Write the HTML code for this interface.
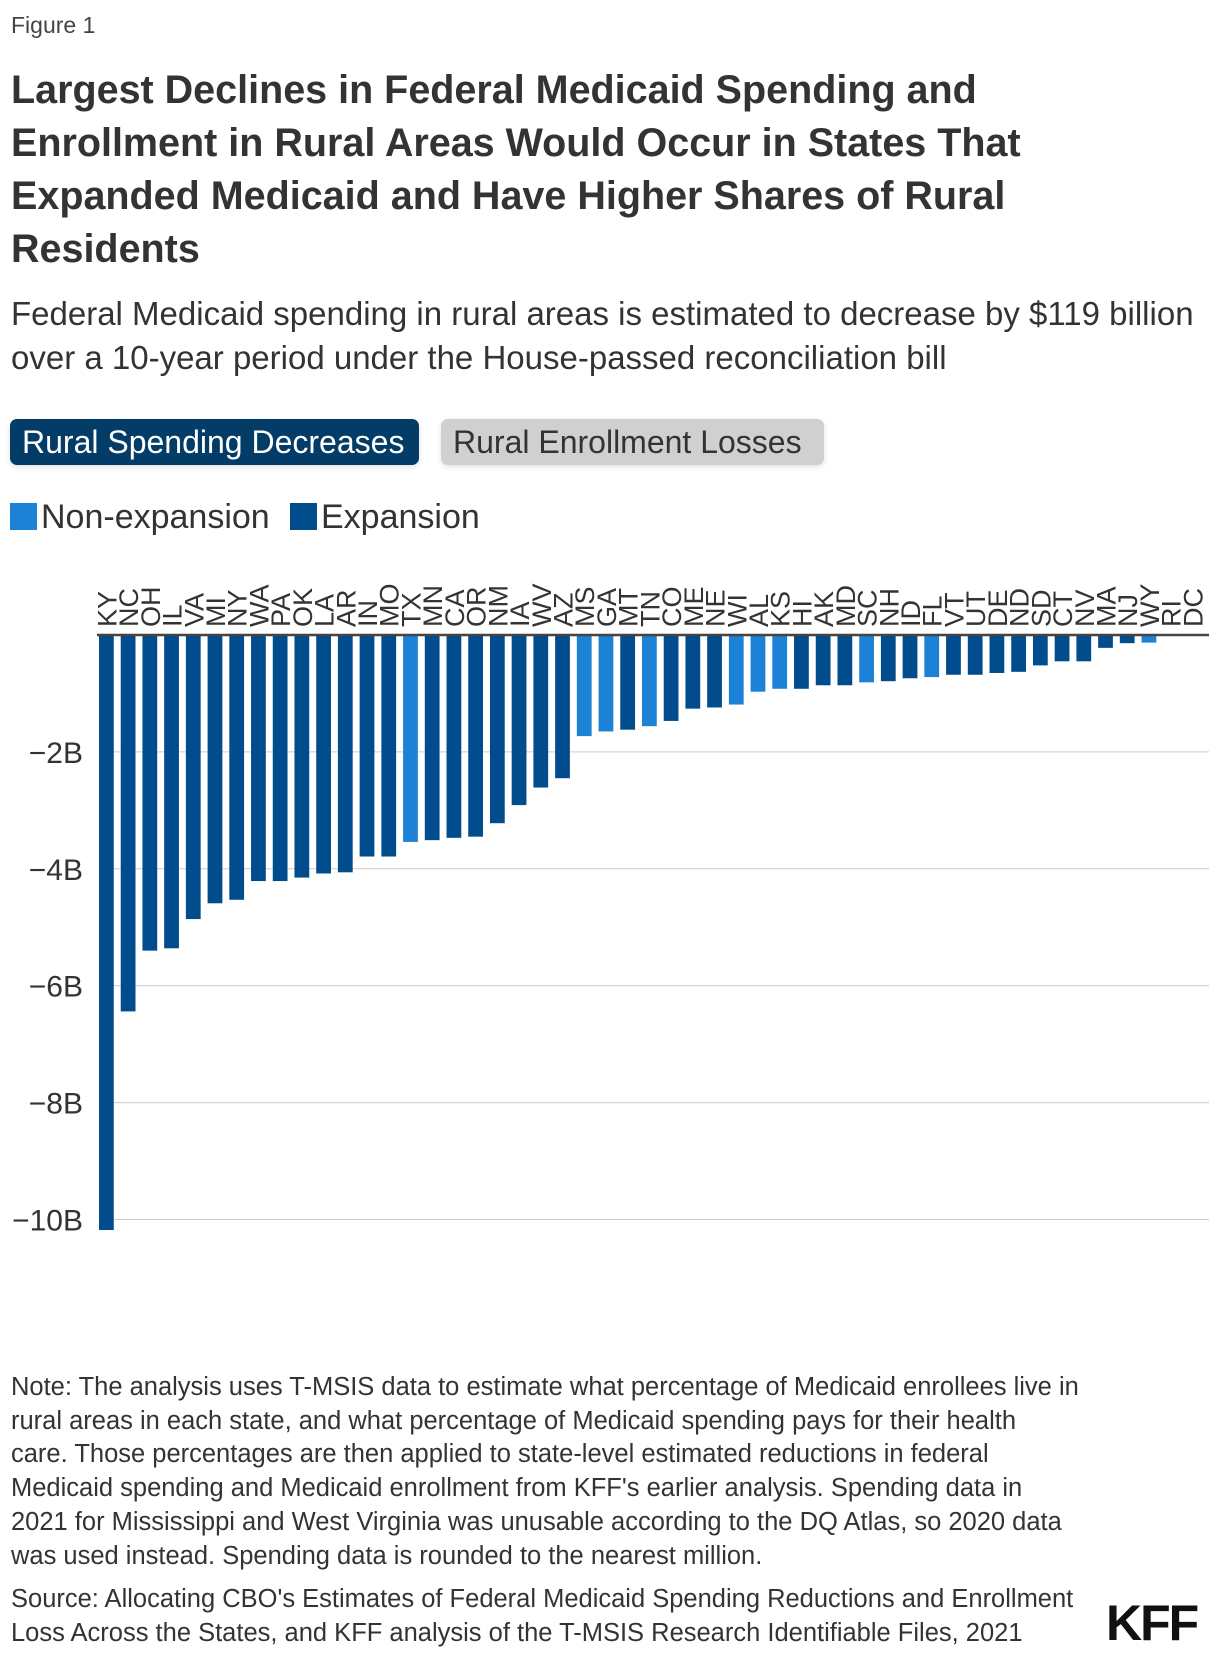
<!DOCTYPE html>
<html><head><meta charset="utf-8">
<style>
body{margin:0;background:#fff;}
#page{position:relative;width:1220px;height:1660px;overflow:hidden;font-family:"Liberation Sans",sans-serif;color:#333;}
.abs{position:absolute;margin:0;}
#fig{left:11px;top:12px;font-size:23px;color:#444;}
#title{left:11px;top:64px;font-size:39.5px;font-weight:bold;line-height:53px;color:#333;}
#sub{left:11px;top:292px;font-size:33px;line-height:44px;color:#333;}
.btn{top:419px;height:46px;border-radius:7px;font-size:32px;line-height:46px;padding:0 12px;box-sizing:border-box;box-shadow:0 2px 6px rgba(0,0,0,.12);white-space:nowrap;}
#b1{left:10px;width:409px;background:#033c66;color:#fff;}
#b2{left:441px;width:383px;background:#d0d0d0;color:#333;}
.leg{top:498px;font-size:34px;line-height:38px;white-space:nowrap;}
.sw{display:inline-block;width:27px;height:27px;vertical-align:-2px;margin-right:4px;}
#note{left:11px;top:1371px;font-size:25.5px;line-height:33.7px;color:#333;width:1200px;}
#src{left:11px;top:1583px;font-size:25.5px;line-height:33.7px;color:#333;width:1200px;}
#kff{left:1106px;top:1594px;font-size:50px;font-weight:bold;color:#111;letter-spacing:-2px;}
</style></head><body>
<div id="page">
<p class="abs" id="fig">Figure 1</p>
<p class="abs" id="title">Largest Declines in Federal Medicaid Spending and<br>Enrollment in Rural Areas Would Occur in States That<br>Expanded Medicaid and Have Higher Shares of Rural<br>Residents</p>
<p class="abs" id="sub">Federal Medicaid spending in rural areas is estimated to decrease by $119 billion<br>over a 10-year period under the House-passed reconciliation bill</p>
<div class="abs btn" id="b1">Rural Spending Decreases</div>
<div class="abs btn" id="b2">Rural Enrollment Losses</div>
<div class="abs leg" style="left:10px"><span class="sw" style="background:#1c82d6"></span>Non-expansion</div>
<div class="abs leg" style="left:290px"><span class="sw" style="background:#004c8c"></span>Expansion</div>
<svg class="abs" style="left:0;top:0" width="1220" height="1300" id="chart"></svg>
<p class="abs" id="note">Note: The analysis uses T-MSIS data to estimate what percentage of Medicaid enrollees live in<br>rural areas in each state, and what percentage of Medicaid spending pays for their health<br>care. Those percentages are then applied to state-level estimated reductions in federal<br>Medicaid spending and Medicaid enrollment from KFF's earlier analysis. Spending data in<br>2021 for Mississippi and West Virginia was unusable according to the DQ Atlas, so 2020 data<br>was used instead. Spending data is rounded to the nearest million.</p>
<p class="abs" id="src">Source: Allocating CBO's Estimates of Federal Medicaid Spending Reductions and Enrollment<br>Loss Across the States, and KFF analysis of the T-MSIS Research Identifiable Files, 2021</p>
<div class="abs" id="kff">KFF</div>
</div>
<script>
const states=["KY","NC","OH","IL","VA","MI","NY","WA","PA","OK","LA","AR","IN","MO","TX","MN","CA","OR","NM","IA","WV","AZ","MS","GA","MT","TN","CO","ME","NE","WI","AL","KS","HI","AK","MD","SC","NH","ID","FL","VT","UT","DE","ND","SD","CT","NV","MA","NJ","WY","RI","DC"];
const values=[-10.18,-6.44,-5.40,-5.36,-4.86,-4.59,-4.53,-4.21,-4.21,-4.15,-4.08,-4.06,-3.79,-3.79,-3.54,-3.51,-3.47,-3.45,-3.22,-2.91,-2.61,-2.45,-1.73,-1.65,-1.62,-1.56,-1.47,-1.26,-1.24,-1.19,-0.97,-0.92,-0.92,-0.86,-0.86,-0.81,-0.79,-0.74,-0.72,-0.68,-0.68,-0.65,-0.63,-0.52,-0.45,-0.45,-0.22,-0.14,-0.13,0,0];
const nonExpansion=["TX","MS","GA","TN","WI","AL","KS","SC","FL","WY"];
const yTicks=[-2,-4,-6,-8,-10];
const yTickLabels=["−2B","−4B","−6B","−8B","−10B"];
const NS="http://www.w3.org/2000/svg";
const svg=document.getElementById('chart');
const x0=99,x1=1209,zeroY=635,perUnit=58.45;
const pitch=21.72;
const barW=pitch*0.68;
const y=v=>zeroY-v*perUnit;
const xb=i=>x0+i*pitch;
function mk(t,a){const e=document.createElementNS(NS,t);for(const k in a)e.setAttribute(k,a[k]);svg.appendChild(e);return e;}
yTicks.forEach((t,i)=>{
  const g=mk('line',{x1:x0,x2:x1,y1:y(t),y2:y(t),stroke:'#ccc','stroke-width':1});
  
  
  const l=mk('text',{x:83,y:y(t)+11,'text-anchor':'end','font-size':30,fill:'#333','font-family':'Liberation Sans, sans-serif'});
  l.textContent=yTickLabels[i];
  
  
});
states.forEach((s,i)=>{
  const v=values[i];
  if(v!==0){
    const r=mk('rect',{x:xb(i),y:zeroY,width:barW,height:y(v)-zeroY,fill:nonExpansion.includes(s)?'#1c82d6':'#004c8c'});
    
    
  }
  const cx=xb(i)+barW/2+10;
  const t=mk('text',{x:cx,y:627,transform:'rotate(-90 '+cx+' 627)','font-size':27,fill:'#333','font-family':'Liberation Sans, sans-serif'});
  t.textContent=s;
  
  
});
const ax=mk('line',{x1:x0-2,x2:x1,y1:zeroY,y2:zeroY,stroke:'#444','stroke-width':2.5});


</script>
</body></html>
